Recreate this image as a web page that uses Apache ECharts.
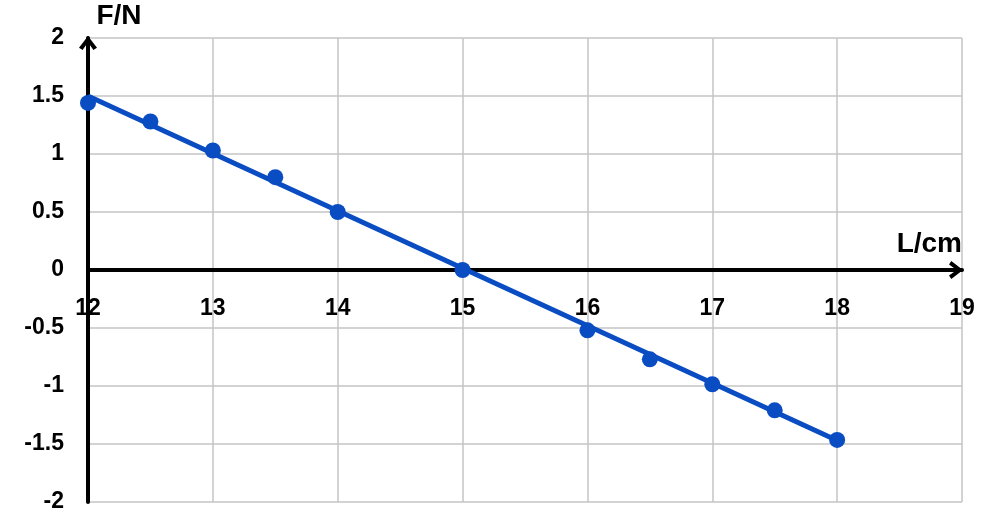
<!DOCTYPE html>
<html>
<head>
<meta charset="utf-8">
<script src="https://cdn.jsdelivr.net/npm/echarts@6/dist/echarts.min.js"></script>
<style>
html,body{margin:0;padding:0;background:#ffffff;}
#chart{width:982px;height:532px;}
</style>
</head>
<body>
<div id="chart"></div>
<script>
// Data
var lengths = [12, 12.5, 13, 13.5, 14, 15, 16, 16.5, 17, 17.5, 18];
var forces  = [1.44, 1.28, 1.03, 0.80, 0.50, 0.00, -0.52, -0.77, -0.985, -1.21, -1.465];
var fitX = [12, 18];
var fitY = [1.50, -1.47];
var xTicks = [12, 13, 14, 15, 16, 17, 18, 19];
var yTicks = [-2, -1.5, -1, -0.5, 0, 0.5, 1, 1.5, 2];

var blue = '#0a4cc2';
var font = '"Liberation Sans", Arial, sans-serif';
var chevron = 'path://M0,13 L10,0 L20,13 L16,15.5 L10,7 L4,15.5 Z';

var chart = echarts.init(document.getElementById('chart'), null, {renderer: 'canvas'});
chart.setOption({
  backgroundColor: '#ffffff',
  animation: false,
  grid: {left: 88, right: 20, top: 38, bottom: 30, containLabel: false, outerBoundsMode: 'none'},
  xAxis: {
    type: 'value', min: xTicks[0], max: xTicks[xTicks.length - 1], interval: 1,
    name: 'L/cm', nameLocation: 'end', nameGap: 0,
    nameTextStyle: {fontFamily: font, fontWeight: 'bold', fontSize: 28, color: '#000',
      align: 'right', verticalAlign: 'bottom', padding: [0, 0, 12, 0]},
    axisLine: {onZero: true, lineStyle: {color: '#000', width: 4},
      symbol: ['none', chevron], symbolSize: [18, 24], symbolOffset: [0, -6]},
    axisTick: {show: false},
    axisLabel: {fontFamily: font, fontWeight: 'bold', fontSize: 23, color: '#000', margin: -205,
      showMinLabel: true, showMaxLabel: true, hideOverlap: false},
    splitLine: {show: true, lineStyle: {color: '#c4c4c4', width: 1.5}}
  },
  yAxis: {
    type: 'value', min: yTicks[0], max: yTicks[yTicks.length - 1], interval: 0.5,
    name: 'F/N', nameLocation: 'end', nameGap: 8,
    nameTextStyle: {fontFamily: font, fontWeight: 'bold', fontSize: 28, color: '#000',
      padding: [0, 0, 0, 62]},
    axisLine: {onZero: false, lineStyle: {color: '#000', width: 4},
      symbol: ['none', chevron], symbolSize: [18, 24], symbolOffset: [0, -5]},
    axisTick: {show: false},
    axisLabel: {fontFamily: font, fontWeight: 'bold', fontSize: 23, color: '#000', margin: 24},
    splitLine: {show: true, lineStyle: {color: '#c4c4c4', width: 1.5}}
  },
  series: [
    {
      type: 'line', data: fitX.map(function (x, i) { return [x, fitY[i]]; }),
      showSymbol: false, symbol: 'none',
      lineStyle: {color: blue, width: 5}, z: 3
    },
    {
      type: 'scatter', data: lengths.map(function (x, i) { return [x, forces[i]]; }),
      symbol: 'circle', symbolSize: 16,
      itemStyle: {color: blue, opacity: 1}, z: 4
    }
  ]
});
</script>
</body>
</html>
